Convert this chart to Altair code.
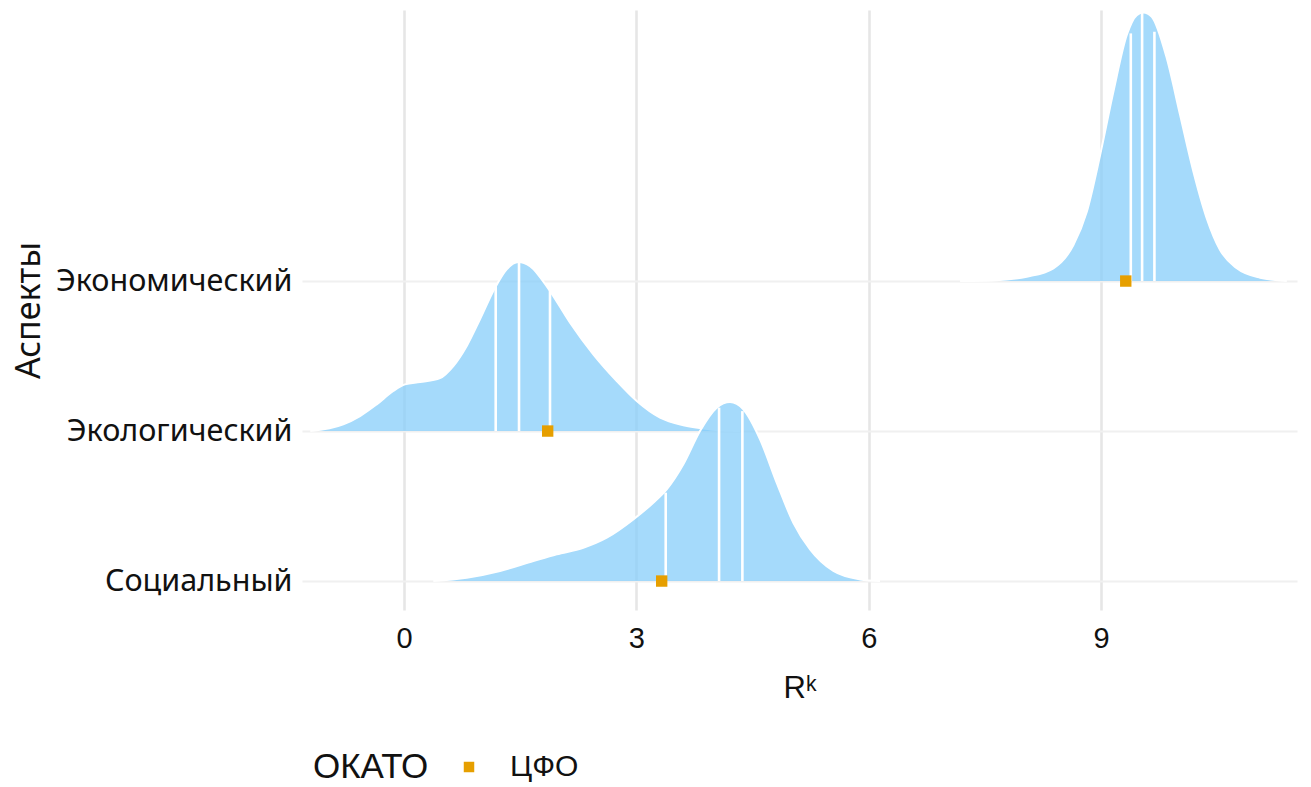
import altair as alt
import pandas as pd

# Categories (bottom to top)
aspects = ["Социальный", "Экологический", "Экономический"]
positions = [1, 2, 3]

# Ridge density curves (x value, ridge height in category units)
econ_x = [7.18, 7.61, 8.04, 8.385, 8.643, 8.816, 8.988, 9.159, 9.332, 9.461, 9.547,
          9.655, 9.849, 10.021, 10.193, 10.365, 10.537, 10.753, 11.054, 11.399]
econ_h = [0.0, 0.004, 0.029, 0.085, 0.24, 0.462, 0.84, 1.262, 1.64, 1.773, 1.791,
          1.762, 1.485, 1.107, 0.729, 0.418, 0.207, 0.085, 0.022, 0.0]

ecol_x = [-1.21, -0.784, -0.568, -0.353, -0.138, 0.013, 0.207, 0.465, 0.637, 0.81,
          0.981, 1.175, 1.326, 1.476, 1.627, 1.885, 2.144, 2.444, 2.747, 3.005,
          3.306, 3.607, 3.951, 4.34]
ecol_h = [0.0, 0.045, 0.10, 0.178, 0.267, 0.311, 0.327, 0.353, 0.433, 0.567,
          0.745, 0.955, 1.078, 1.127, 1.10, 0.933, 0.722, 0.511, 0.333, 0.20,
          0.089, 0.038, 0.011, 0.0]

soc_x = [0.378, 0.81, 1.24, 1.67, 1.972, 2.315, 2.618, 2.961, 3.219, 3.392, 3.607,
         3.822, 4.038, 4.21, 4.381, 4.597, 4.813, 5.027, 5.243, 5.544, 5.888, 6.147]
soc_h = [0.0, 0.022, 0.067, 0.133, 0.178, 0.222, 0.289, 0.411, 0.522, 0.611, 0.778,
         1.0, 1.155, 1.193, 1.145, 0.945, 0.655, 0.389, 0.211, 0.067, 0.011, 0.0]

# Quartile lines (x value, height of the line)
econ_qx = [9.384, 9.530, 9.689]
econ_qh = [1.651, 1.791, 1.662]
ecol_qx = [1.184, 1.485, 1.885]
ecol_qh = [0.967, 1.127, 0.933]
soc_qx = [3.379, 4.068, 4.369]
soc_qh = [0.589, 1.156, 1.133]

# ЦФО points (Социальный, Экологический, Экономический)
okato_x = [3.327, 1.855, 9.319]
okato_label = "ЦФО"

x_ticks = [0, 3, 6, 9]

curves = {
    "Экономический": (econ_x, econ_h, econ_qx, econ_qh),
    "Экологический": (ecol_x, ecol_h, ecol_qx, ecol_qh),
    "Социальный": (soc_x, soc_h, soc_qx, soc_qh),
}
pos_of = dict(zip(aspects, positions))

xscale = alt.Scale(domain=[-1.317, 11.53], nice=False, zero=False)
yscale = alt.Scale(domain=[0.807, 4.807], nice=False, zero=False)

label_expr = ("datum.value == 1 ? 'Социальный' : datum.value == 2 ? "
              "'Экологический' : datum.value == 3 ? 'Экономический' : ''")

xaxis = alt.Axis(values=x_ticks, title="Rᵏ", labelFont="Liberation Sans",
                 labelFontSize=29, labelColor="#111", labelPadding=14,
                 titleFont="Liberation Sans", titleFontSize=31,
                 titleFontWeight="normal", titleColor="#111", titlePadding=20,
                 grid=True, gridColor="#E6E6E6", gridWidth=2.6,
                 domain=False, ticks=False)
yaxis = alt.Axis(values=positions, labelExpr=label_expr, title="Аспекты",
                 labelFont="Noto Sans", labelFontSize=30.5, labelColor="#111",
                 labelPadding=10, labelLimit=500, titleFont="Noto Sans", titleFontSize=34,
                 titleFontWeight="normal", titleColor="#111",
                 titleX=-273, titleY=300, titleAngle=270, titleAlign="center",
                 titleBaseline="middle",
                 grid=True, gridColor="#F0F0F0", gridWidth=2,
                 domain=False, ticks=False)

X = lambda f: alt.X(f, scale=xscale, axis=xaxis)
Y = lambda f: alt.Y(f, scale=yscale, axis=yaxis)

layers = []
for name in ["Экономический", "Экологический", "Социальный"]:
    cx, ch, qx, qh = curves[name]
    p = pos_of[name]
    dens = pd.DataFrame({"x": cx, "h": ch, "pos": [p] * len(cx)})
    q = pd.DataFrame({"x": qx, "h": qh, "pos": [p] * len(qx)})
    area = alt.Chart(dens).transform_calculate(top="datum.pos + datum.h").mark_area(
        fill="#87CEFA", opacity=0.75, interpolate="monotone"
    ).encode(x=X("x:Q"), y=Y("top:Q"), y2="pos:Q")
    line = alt.Chart(dens).transform_calculate(top="datum.pos + datum.h").mark_line(
        color="white", strokeWidth=2, interpolate="monotone"
    ).encode(x=X("x:Q"), y=Y("top:Q"))
    rules = alt.Chart(q).transform_calculate(top="datum.pos + datum.h").mark_rule(
        color="white", strokeWidth=2.6
    ).encode(x=X("x:Q"), y=Y("top:Q"), y2="pos:Q")
    layers += [area, line, rules]

pts = pd.DataFrame({"x": okato_x, "pos": positions, "okato": [okato_label] * 3})
points = alt.Chart(pts).mark_point(shape="square", filled=True, size=130, opacity=1).encode(
    x=X("x:Q"),
    y=Y("pos:Q"),
    color=alt.Color("okato:N", scale=alt.Scale(domain=[okato_label], range=["#E69F00"]),
                    legend=alt.Legend(title="ОКАТО", orient="none", legendX=11, legendY=742,
                                      direction="horizontal", titleOrient="left",
                                      titleFont="Liberation Sans", titleFontSize=35,
                                      titleFontWeight="normal", titleColor="#111",
                                      titleBaseline="middle", titleAnchor="middle",
                                      titlePadding=25, labelFont="Liberation Sans",
                                      labelFontSize=30, labelColor="#111", labelOffset=26,
                                      symbolType="square", symbolSize=110,
                                      symbolStrokeWidth=0)),
)
layers.append(points)

chart = alt.layer(*layers).properties(
    width=995, height=600,
    autosize=alt.AutoSizeParams(type="none"),
    padding={"left": 294, "top": 2, "right": 6, "bottom": 175},
    background="white",
).configure_view(strokeWidth=0, stroke=None)

chart.save("out.html", embed_options={"renderer": "svg", "actions": False})
